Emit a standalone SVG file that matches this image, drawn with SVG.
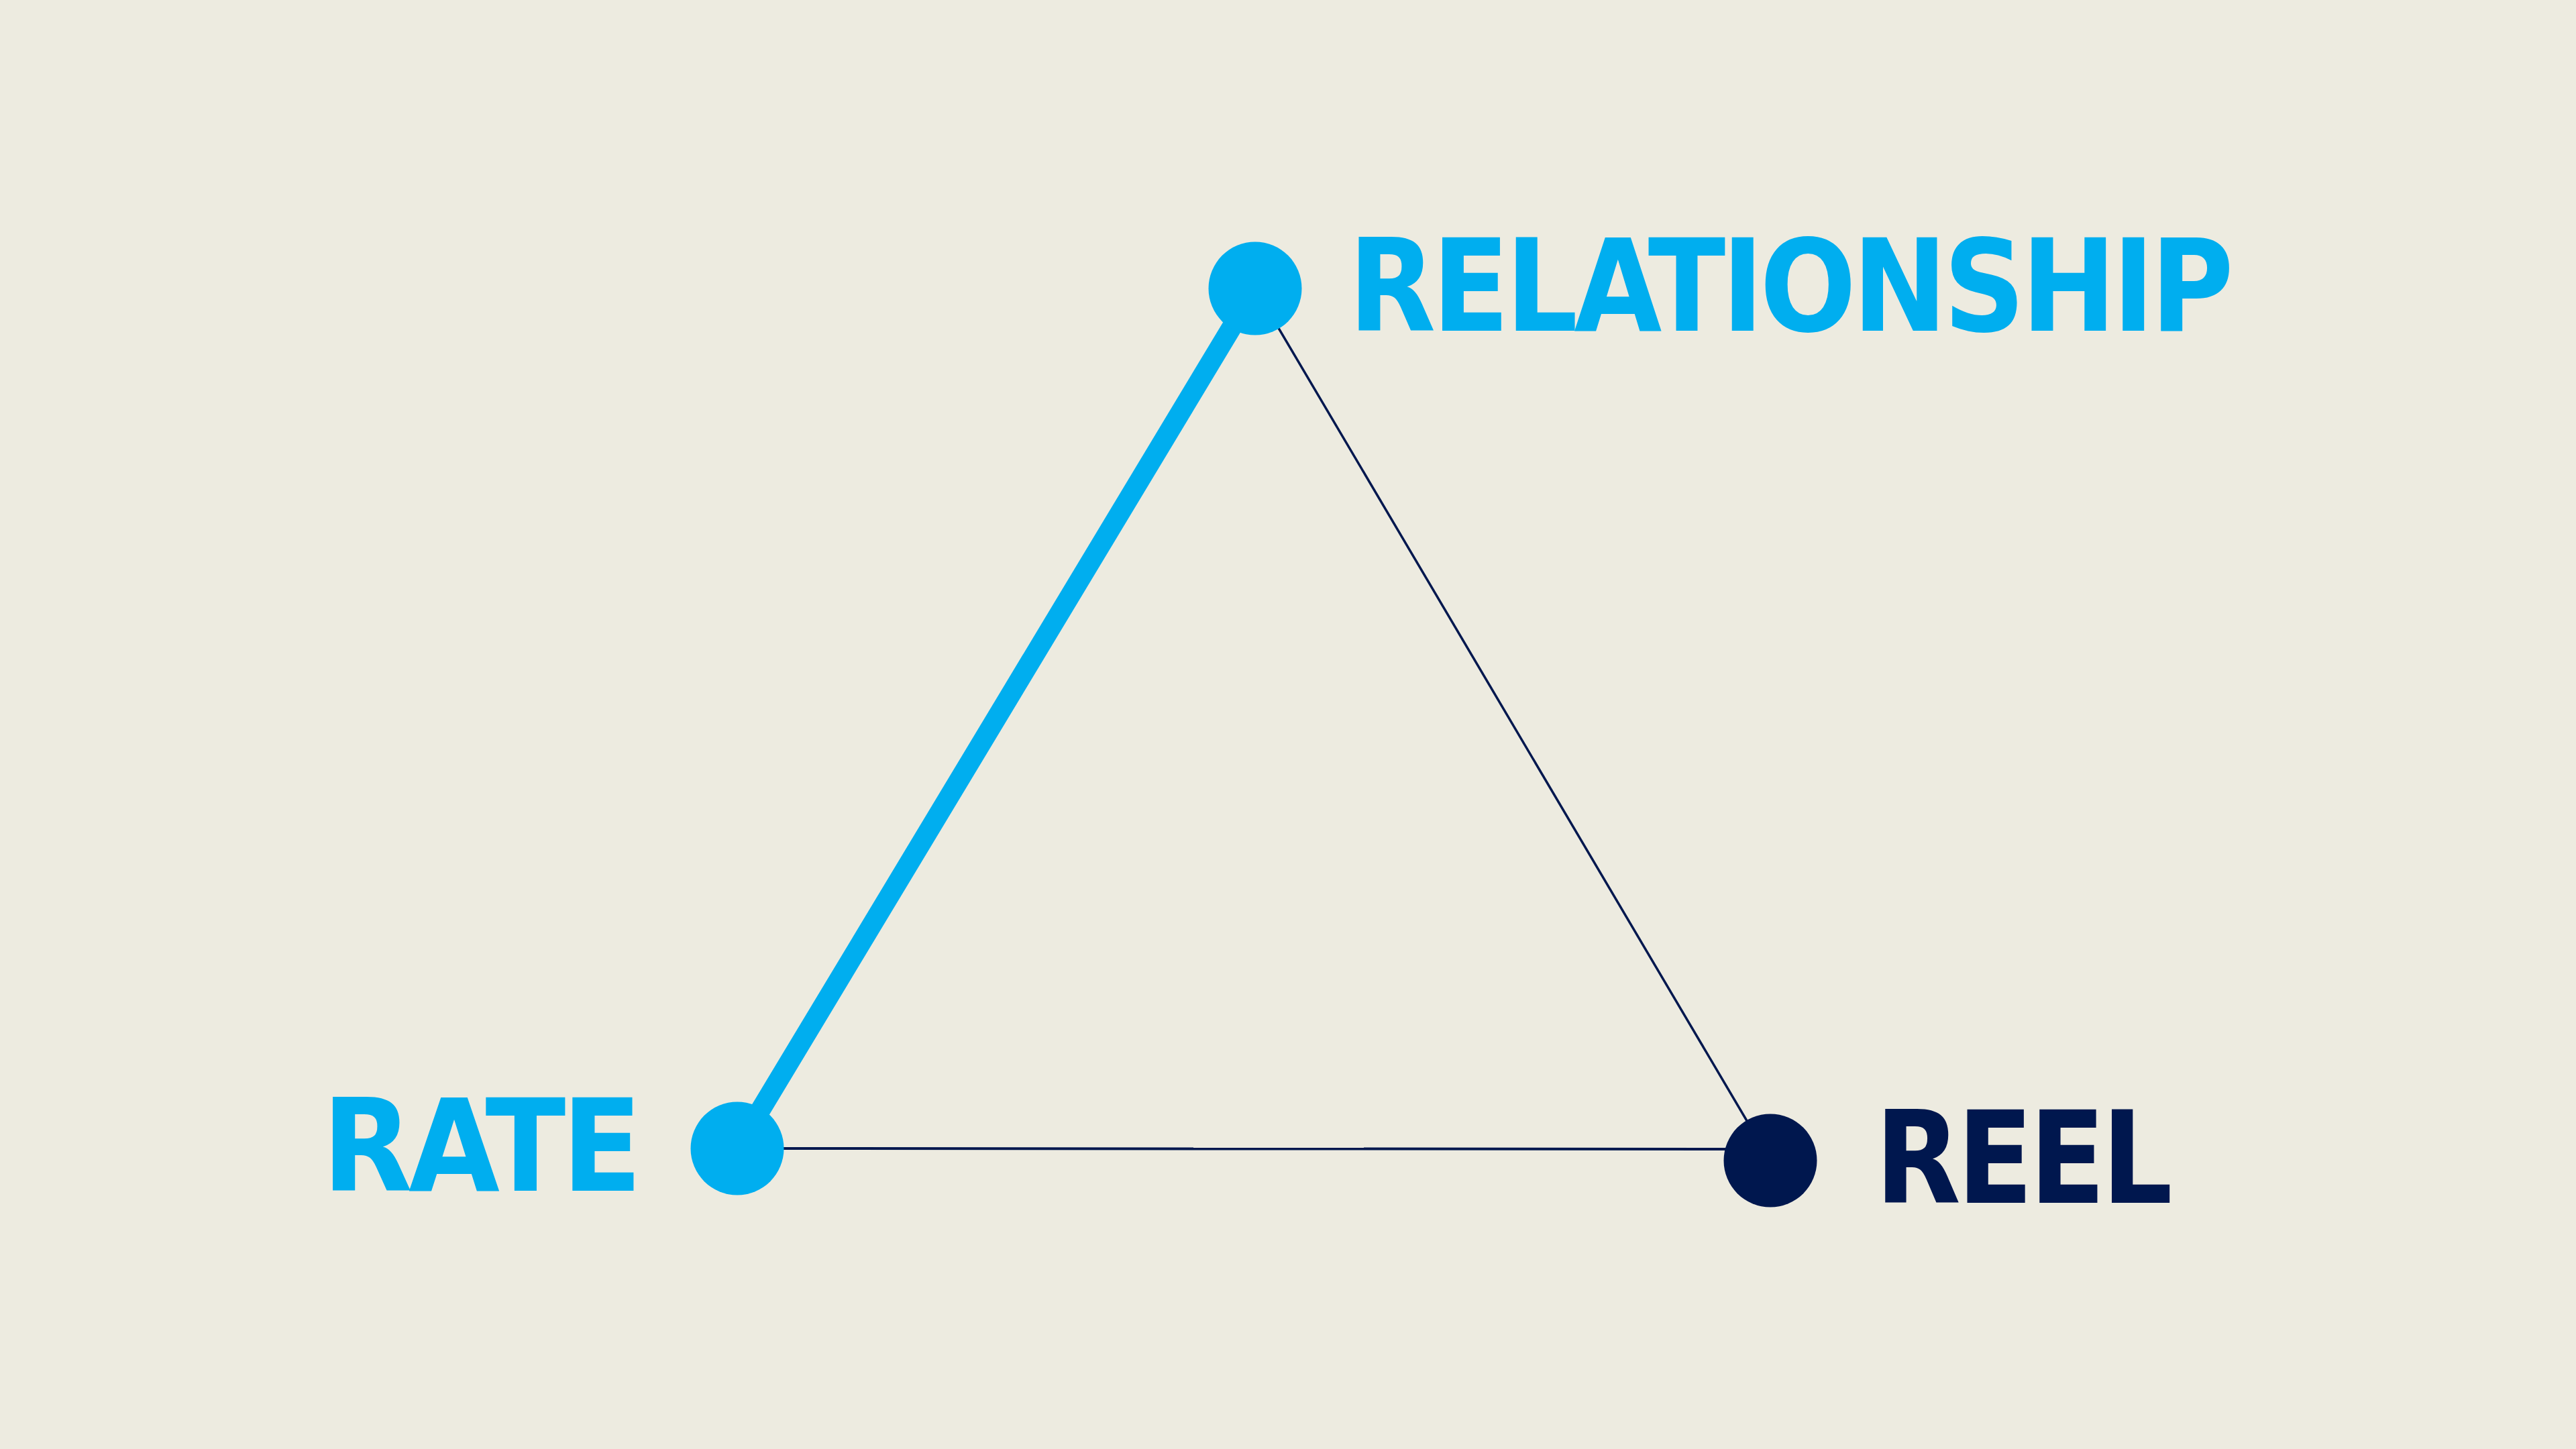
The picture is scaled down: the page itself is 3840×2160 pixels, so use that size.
<svg xmlns="http://www.w3.org/2000/svg" width="3840" height="2160" viewBox="0 0 3840 2160">
<style>
.lbl{font-family:"DejaVu Sans Condensed","Liberation Sans Narrow","Liberation Sans",sans-serif;font-weight:bold;font-size:190px;letter-spacing:-6px}
.cyan{fill:#00AEEF}
.navy{fill:#00174E}
</style>
<rect x="0" y="0" width="3840" height="2160" fill="#EDEBE0"/>
<g id="connectors">
<line x1="1099" y1="1712" x2="1871" y2="430" stroke="#00AEEF" stroke-width="30"/>
<line x1="1871" y1="430" x2="2639" y2="1730" stroke="#00174E" stroke-width="3.5"/>
<line x1="1099" y1="1712" x2="2639" y2="1713" stroke="#00174E" stroke-width="4"/>
</g>
<g id="node-relationship">
<circle class="cyan" cx="1871" cy="430" r="69.5"/>
<text class="lbl cyan" x="2010" y="493" textLength="1314" lengthAdjust="spacingAndGlyphs">RELATIONSHIP</text>
</g>
<g id="node-rate">
<circle class="cyan" cx="1099" cy="1712" r="69.5"/>
<text class="lbl cyan" x="480" y="1775" textLength="471" lengthAdjust="spacingAndGlyphs">RATE</text>
</g>
<g id="node-reel">
<circle class="navy" cx="2639" cy="1730" r="69.5"/>
<text class="lbl navy" x="2795" y="1793" textLength="438" lengthAdjust="spacingAndGlyphs">REEL</text>
</g>
</svg>
